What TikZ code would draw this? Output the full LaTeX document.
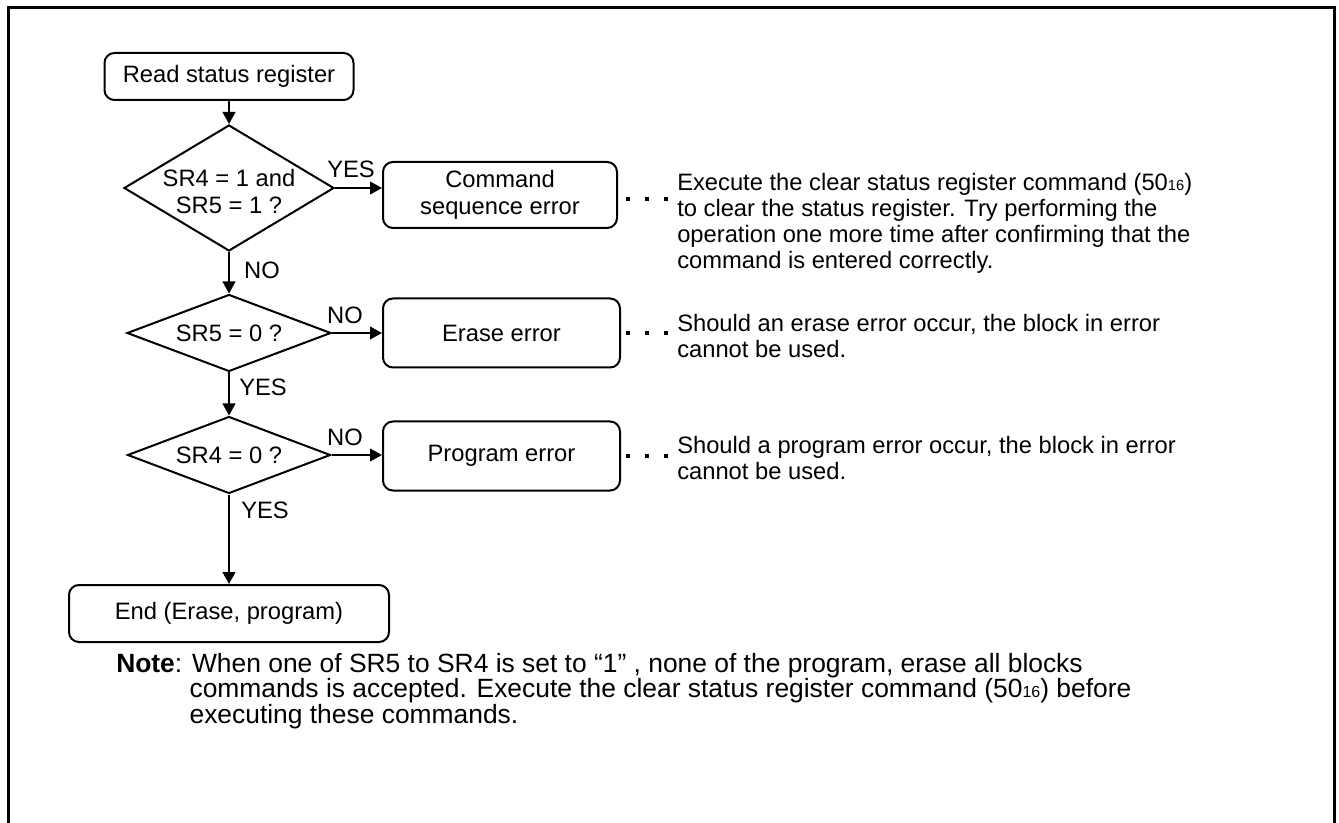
\documentclass[tikz,border=0pt]{standalone}
\usepackage{fontspec}
\setmainfont{Liberation Sans}
\usetikzlibrary{shapes.geometric,arrows.meta}
\newcommand{\hexsub}[1]{{\fontsize{11}{11}\selectfont #1}}
\newcommand{\hexsubb}[1]{{\fontsize{12}{12}\selectfont #1}}
\begin{document}
\begin{tikzpicture}[x=0.75pt,y=-0.75pt,
  font=\fontsize{17.8}{20.5}\selectfont,
  stepbox/.style={draw, line width=1.5pt, rounded corners=7.5pt, align=center, inner sep=0pt},
  decision/.style={draw, diamond, line width=1.5pt, inner sep=0pt},
  dtext/.style={inner sep=0pt, align=center},
  arr/.style={line width=1.5pt, -{Triangle[length=9pt,width=9.5pt]}},
  leader/.style={line width=2.6pt, dash pattern=on 3pt off 11.25pt},
  lab/.style={inner sep=0pt},
  sidetext/.style={inner sep=0pt, align=left, anchor=north west, font=\fontsize{17.8}{19.5}\selectfont},
  notetext/.style={inner sep=0pt, align=left, anchor=north west, font=\fontsize{19.8}{19}\selectfont}]
\useasboundingbox (0,0) rectangle (1339,823);
\draw[line width=2pt] (8.5,823) -- (8.5,7.5) -- (1334.5,7.5) -- (1334.5,823);

% flow
\node[stepbox, minimum width=186.75pt, minimum height=35.25pt] (read) at (229,76.5) {Read status register};
\node[decision, minimum width=157.5pt, minimum height=94.5pt] (d1) at (229,188) {};
\node[dtext] (d1t) at ([yshift=-2.5pt]d1.center) {SR4 = 1 and\\SR5 = 1 ?};
\node[stepbox, minimum width=175.5pt, minimum height=49.5pt] (cmd) at (500,195) {Command\\sequence error};
\node[decision, minimum width=153pt, minimum height=57.75pt] (d2) at (229,333) {};
\node[dtext] (d2t) at (d2.center) {SR5 = 0 ?};
\node[stepbox, minimum width=177.75pt, minimum height=51.75pt] (erase) at (501.5,333) {Erase error};
\node[decision, minimum width=152.25pt, minimum height=57.75pt] (d3) at (229,455) {};
\node[dtext] (d3t) at (d3.center) {SR4 = 0 ?};
\node[stepbox, minimum width=177.75pt, minimum height=51.75pt] (prog) at (501.5,456) {Program error};
\node[stepbox, minimum width=240pt, minimum height=42.75pt] (end) at (229,613.5) {End (Erase, program)};

% connectors
\draw[arr] (read.south) -- (d1.north);
\draw[arr] (d1.east) -- (d1.east -| cmd.west);
\draw[arr] (d1.south) -- (d2.north);
\draw[arr] (d2.east) -- (d2.east -| erase.west);
\draw[arr] (d2.south) -- (d3.north);
\draw[arr] (d3.east) -- (d3.east -| prog.west);
\draw[arr] (d3.south) -- (end.north);

% labels
\node[lab] (l1) at (351,169) {YES};
\node[lab] (l2) at (262,270) {NO};
\node[lab] (l3) at (345,315) {NO};
\node[lab] (l4) at (263,387) {YES};
\node[lab] (l5) at (345,437) {NO};
\node[lab] (l6) at (265,510) {YES};

% side texts
\node[sidetext] (cmdtxt) at (677,173) {Execute the clear status register command (50\hexsub{16})\\to clear the status register. Try performing the\\operation one more time after confirming that the\\command is entered correctly.};
\node[sidetext] (erasetxt) at (677,314) {Should an erase error occur, the block in error\\cannot be used.};
\node[sidetext] (progtxt) at (677,436) {Should a program error occur, the block in error\\cannot be used.};

\coordinate (ls) at (626,0);
\coordinate (le) at (669,0);
\draw[leader] (ls |- 0,199) -- (le |- 0,199);
\draw[leader] (erase.east -| ls) -- (erase.east -| le);
\draw[leader] (prog.east -| ls) -- (prog.east -| le);

% note
\node[notetext] (note) at (116,653) {\textbf{Note}: When one of SR5 to SR4 is set to \char"201C 1\char"201D\ , none of the program, erase all blocks\\\hspace*{55pt}commands is accepted. Execute the clear status register command (50\hexsubb{16}) before\\\hspace*{55pt}executing these commands.};
\end{tikzpicture}
\end{document}
